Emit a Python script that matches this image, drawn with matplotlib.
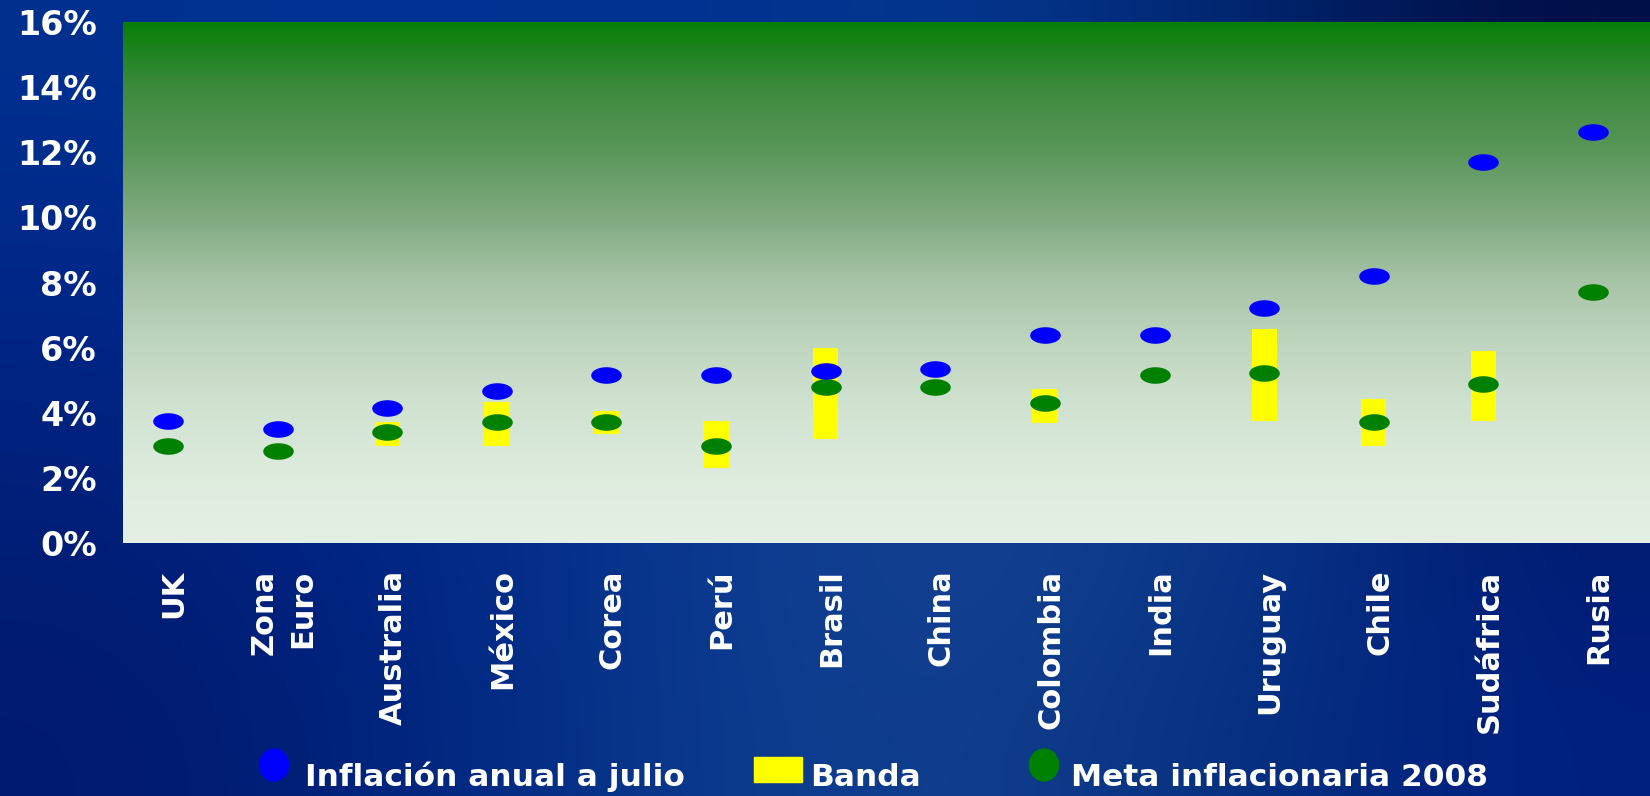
import numpy as np
import matplotlib
matplotlib.use("Agg")
import matplotlib.pyplot as plt
from matplotlib.path import Path
from matplotlib.patches import Ellipse, Rectangle
from matplotlib.colors import LinearSegmentedColormap, to_rgb
from matplotlib.ticker import FuncFormatter
import matplotlib.transforms as mtransforms

# data (% values)
paises = ['UK', 'Zona\nEuro', 'Australia', 'México', 'Corea', 'Perú', 'Brasil', 'China',
          'Colombia', 'India', 'Uruguay', 'Chile', 'Sudáfrica', 'Rusia']
inflacion = [3.75, 3.51, 4.15, 4.68, 5.16, 5.17, 5.28, 5.33, 6.39, 6.39, 7.22, 8.2, 11.7, 12.62]
meta = [2.98, 2.83, 3.41, 3.71, 3.71, 2.97, 4.79, 4.79, 4.3, 5.17, 5.22, 3.72, 4.88, 7.7]
banda_min = [np.nan, np.nan, 2.98, 2.97, 3.36, 2.3, 3.19, np.nan, 3.68, np.nan, 3.76, 2.99, 3.75, np.nan]
banda_max = [np.nan, np.nan, 3.72, 4.33, 4.04, 3.74, 6.0, np.nan, 4.72, np.nan, 6.58, 4.43, 5.89, np.nan]
yticks = list(range(0, 17, 2))

W, H = 1650, 796
fig = plt.figure(figsize=(W / 100, H / 100), dpi=100)

# slide background (blue gradient)
bg = fig.add_axes([0, 0, 1, 1])
grid_hex = [
    ['#00308f', '#003294', '#003090', '#053890', '#002670', '#000e45'],
    ['#002688', '#002a8a', '#08348e', '#0c3990', '#052e80', '#001a60'],
    ['#001f78', '#00268a', '#0a3a90', '#1a4592', '#0a3a90', '#001a6e'],
    ['#001a6e', '#00247e', '#0a3a8e', '#123f8e', '#06307e', '#002080'],
]
grid = np.array([[to_rgb(c) for c in row] for row in grid_hex])
bg.imshow(grid, extent=[0, W, H, 0], aspect='auto', interpolation='bicubic')
bg.set_xlim(0, W)
bg.set_ylim(H, 0)
bg.axis('off')

# plot area
left, top, bottom = 123, 22, 543
ax = fig.add_axes([left / W, (H - bottom) / H, (W - left) / W, (bottom - top) / H])
ax.set_facecolor('none')
x = np.arange(len(paises))
ax.set_xlim(-0.41, 13.52)
ax.set_ylim(0, 16)

cmap = LinearSegmentedColormap.from_list('verde', [
    (0.0, '#e4f0e4'), (0.125, '#deecde'), (0.25, '#d2e3d2'), (0.375, '#c0d6c0'),
    (0.5, '#a8c4a8'), (0.625, '#80aa80'), (0.75, '#5a975a'), (0.875, '#3d8a3d'),
    (1.0, '#087f08')])
grad = np.linspace(1, 0, 256).reshape(-1, 1)
ax.imshow(grad, cmap=cmap, extent=[-0.41, 13.52, 0, 16], aspect='auto', zorder=0)

# bands
bmin = np.array(banda_min)
bmax = np.array(banda_max)
ax.bar(x, bmax - bmin, bottom=bmin, width=0.23, color='#ffff00', zorder=2)

# ellipse marker
t = np.linspace(0, 2 * np.pi, 60)
elipse = Path(np.column_stack([np.cos(t), 0.52 * np.sin(t)]), closed=True)
ax.plot(x, meta, linestyle='none', marker=elipse, markersize=21, color='#008000', zorder=3)
ax.plot(x, inflacion, linestyle='none', marker=elipse, markersize=21, color='#0000ff', zorder=4)

for s in ax.spines.values():
    s.set_visible(False)
ax.tick_params(length=0)
ax.set_yticks(yticks)
ax.yaxis.set_major_formatter(FuncFormatter(lambda v, p: f"{v:.0f}%"))
ax.tick_params(axis='y', pad=19, labelsize=24, labelcolor='white')
for lab in ax.get_yticklabels():
    lab.set_fontweight('bold')

ax.set_xticks(x)
ax.set_xticklabels(paises, rotation=90, fontsize=22, fontweight='bold', color='white',
                   va='top', ha='center', multialignment='right', linespacing=1.45)
ax.tick_params(axis='x', pad=19)
shift = mtransforms.ScaledTranslation(6 / 100, 0, fig.dpi_scale_trans)
for lab in ax.get_xticklabels():
    lab.set_transform(lab.get_transform() + shift)

# legend (drawn in pixel coords on background axes)
bg.add_patch(Ellipse((274, 765), 29, 32, color='#0000ff'))
bg.text(305, 786, 'Inflación anual a julio', color='white', fontsize=22.5,
        fontweight='bold', va='baseline', ha='left')
bg.add_patch(Rectangle((754, 757), 48, 25, color='#ffff00'))
bg.text(810, 786, 'Banda', color='white', fontsize=22.5,
        fontweight='bold', va='baseline', ha='left')
bg.add_patch(Ellipse((1044, 765), 29, 32, color='#008000'))
bg.text(1071, 786, 'Meta inflacionaria 2008', color='white', fontsize=22.5,
        fontweight='bold', va='baseline', ha='left')

fig.savefig('out.png', dpi=100)
